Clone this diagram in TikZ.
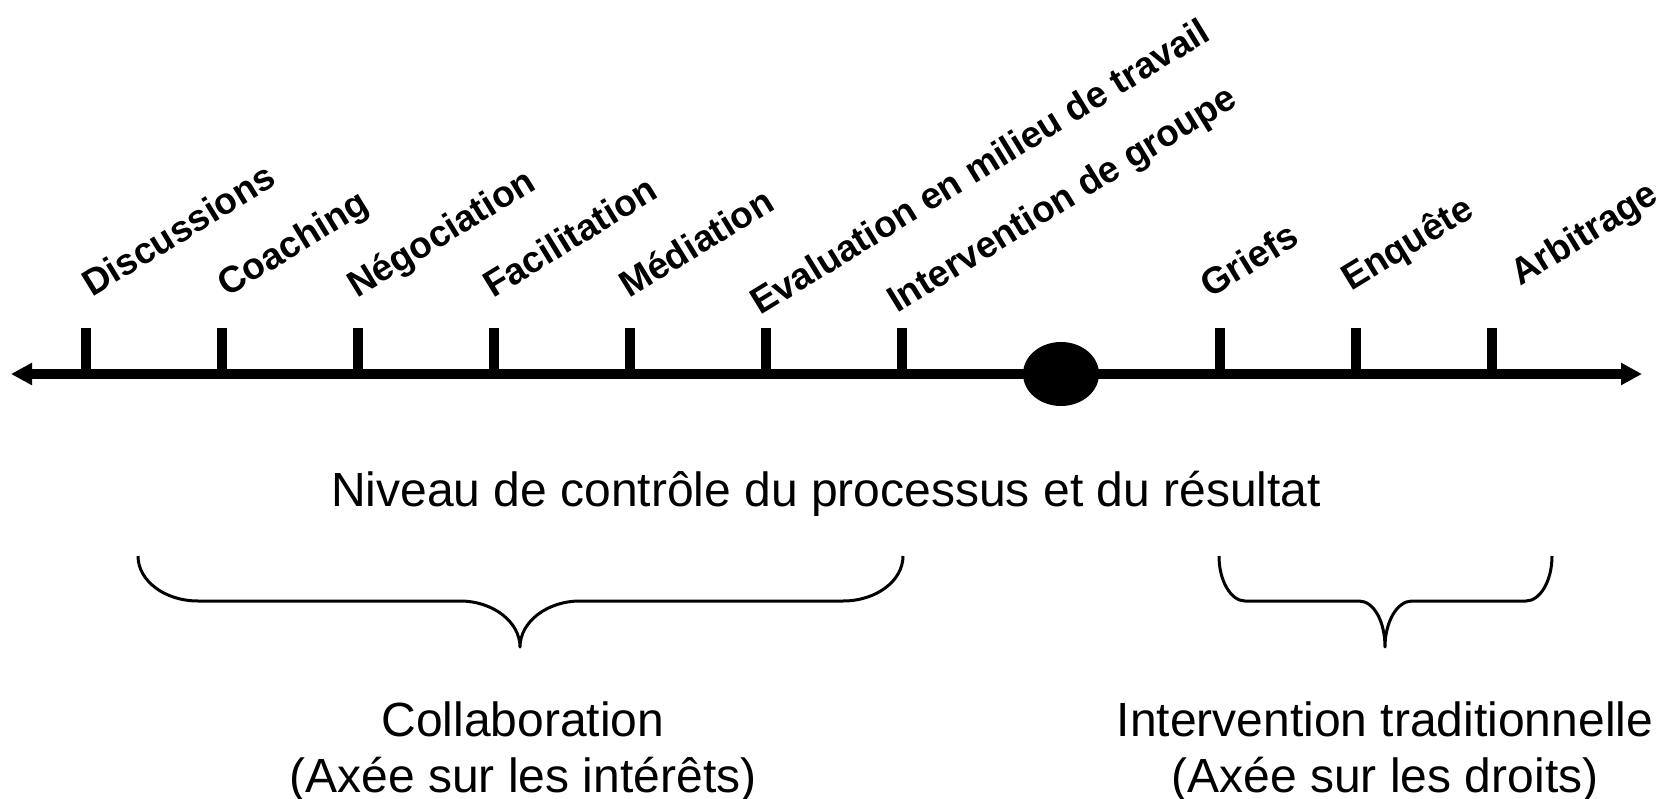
\documentclass[tikz,border=0pt]{standalone}
\usepackage{fontspec}
\setmainfont{Liberation Sans}
\usetikzlibrary{arrows.meta}
\begin{document}
\begin{tikzpicture}[x=1pt,y=-1pt,
  axisline/.style={line width=10pt,
    {Triangle[length=21pt,width=21pt]}-{Triangle[length=21pt,width=21pt]}},
  tickmark/.style={line width=10pt},
  bracepath/.style={line width=3pt, line join=round},
  lbl/.style={anchor=base west, inner sep=0pt, rotate=31.5,
    font=\fontsize{37}{44}\selectfont\bfseries},
  caption/.style={anchor=base, inner sep=0pt,
    font=\fontsize{48}{58}\selectfont}]
\useasboundingbox (0,0) rectangle (1667,799);

% main axis with arrow heads at both ends
\coordinate (left) at (11,374);
\coordinate (right) at (1642,374);
\draw[axisline] (left) -- (right);

% tick marks
\foreach \n/\x in {1/86,2/222,3/358,4/494,5/630,6/766,7/902,8/1220,9/1356,10/1492}{
  \coordinate (t\n) at (\x,374);
  \draw[tickmark] (\x,328) -- (t\n);
}

% central marker
\fill (1061,374) ellipse [x radius=38, y radius=32];

% process labels
\node[lbl] (l1) at (92,298) {Discussions};
\node[lbl] (l2) at (227,298) {Coaching};
\node[lbl] (l3) at (357,299) {Négociation};
\node[lbl] (l4) at (493,299) {Facilitation};
\node[lbl] (l5) at (629,299) {Médiation};
\node[lbl] (l6) at (760,316) {Evaluation en milieu de travail};
\node[lbl] (l7) at (897,314) {Intervention de groupe};
\node[lbl] (l8) at (1210,299) {Griefs};
\node[lbl] (l9) at (1351,292) {Enquête};
\node[lbl] (l10) at (1520,287) {Arbitrage};

% axis caption
\node[caption] (cap) at (826,506) {Niveau de contrôle du processus et du résultat};

% left brace
\draw[bracepath] (138,556) .. controls (138,581) and (165,601) .. (198,601)
  -- (460,601) .. controls (493,601) and (520,622) .. (520,647)
  .. controls (520,622) and (547,601) .. (580,601)
  -- (843,601) .. controls (876,601) and (903,581) .. (903,556);

% right brace
\draw[bracepath] (1219,556) .. controls (1219,581) and (1231,601) .. (1245,601)
  -- (1359,601) .. controls (1374,601) and (1385,622) .. (1385,647)
  .. controls (1385,622) and (1397,601) .. (1412,601)
  -- (1526,601) .. controls (1540,601) and (1552,581) .. (1552,556);

% group captions
\node[caption] (g1a) at (523,736) {Collaboration};
\node[caption] (g1b) at (523,792) {(Axée sur les intérêts)};
\node[caption] (g2a) at (1385,736) {Intervention traditionnelle};
\node[caption] (g2b) at (1385,792) {(Axée sur les droits)};
\end{tikzpicture}
\end{document}
